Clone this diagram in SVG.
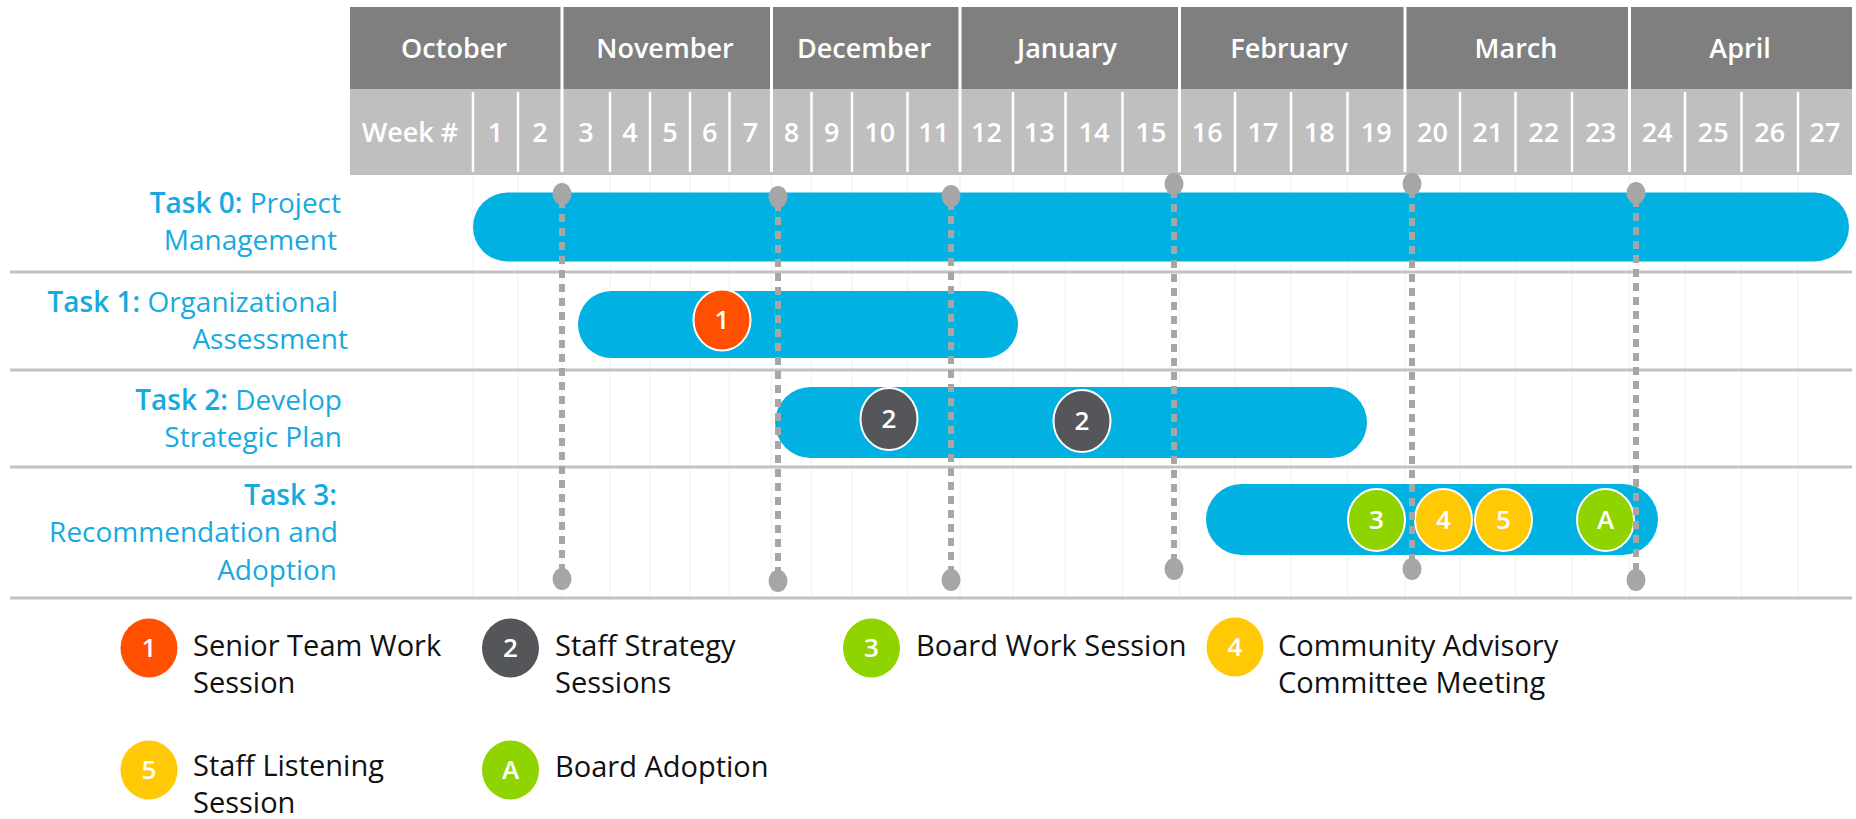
<svg xmlns="http://www.w3.org/2000/svg" width="1856" height="819" viewBox="0 0 1856 819">
  <style>
    .month { fill: #7f7f7f; }
    .weekrow { fill: #bfbfbf; }
    .hdr { font-family: "Open Sans", "Liberation Sans", sans-serif; font-weight: 600; fill: #ffffff; text-anchor: middle; }
    .mtxt { font-size: 27px; }
    .wtxt { font-size: 27px; }
    .wdiv { stroke: #ffffff; stroke-width: 2.5; }
    .mdiv { stroke: #ffffff; stroke-width: 3; }
    .grid { stroke: #f4f4f4; stroke-width: 1.5; }
    .rowline { stroke: #c2c2c2; stroke-width: 3; }
    .bar { fill: #00b1e1; }
    .task { font-family: "Open Sans", "Liberation Sans", sans-serif; font-size: 28px; fill: #17a9e0; text-anchor: end; }
    .task .b { font-weight: 600; }
    .ms { stroke: #ffffff; stroke-width: 2; }
    .num { font-family: "Open Sans", "Liberation Sans", sans-serif; font-weight: 600; font-size: 26px; fill: #ffffff; text-anchor: middle; }
    .orange { fill: #fe5000; }
    .dark { fill: #55565a; }
    .green { fill: #8fd400; }
    .yellow { fill: #ffc905; }
    .dash { stroke: #a6a6a6; stroke-width: 6; stroke-dasharray: 8 6; fill: none; }
    .dot { fill: #a6a6a6; }
    .leg { font-family: "Open Sans", "Liberation Sans", sans-serif; font-size: 29px; fill: #111111; }
  </style>

  <rect width="1856" height="819" fill="#ffffff"/>

  <!-- Timeline header: months and week numbers -->
  <g id="header">
    <rect class="month" x="350" y="7" width="1502" height="82"/>
    <rect class="weekrow" x="350" y="89" width="1502" height="86"/>
    <g class="wdiv">
      <line x1="473" y1="92" x2="473" y2="172"/>
      <line x1="518" y1="92" x2="518" y2="172"/>
      <line x1="610" y1="92" x2="610" y2="172"/>
      <line x1="650" y1="92" x2="650" y2="172"/>
      <line x1="690" y1="92" x2="690" y2="172"/>
      <line x1="729.5" y1="92" x2="729.5" y2="172"/>
      <line x1="811.5" y1="92" x2="811.5" y2="172"/>
      <line x1="852" y1="92" x2="852" y2="172"/>
      <line x1="907.5" y1="92" x2="907.5" y2="172"/>
      <line x1="1013" y1="92" x2="1013" y2="172"/>
      <line x1="1065.5" y1="92" x2="1065.5" y2="172"/>
      <line x1="1122.5" y1="92" x2="1122.5" y2="172"/>
      <line x1="1235" y1="92" x2="1235" y2="172"/>
      <line x1="1291" y1="92" x2="1291" y2="172"/>
      <line x1="1347.5" y1="92" x2="1347.5" y2="172"/>
      <line x1="1460" y1="92" x2="1460" y2="172"/>
      <line x1="1515.5" y1="92" x2="1515.5" y2="172"/>
      <line x1="1572" y1="92" x2="1572" y2="172"/>
      <line x1="1685" y1="92" x2="1685" y2="172"/>
      <line x1="1741.5" y1="92" x2="1741.5" y2="172"/>
      <line x1="1798" y1="92" x2="1798" y2="172"/>
    </g>
    <g class="mdiv">
      <line x1="562" y1="7" x2="562" y2="172"/>
      <line x1="771.5" y1="7" x2="771.5" y2="172"/>
      <line x1="960" y1="7" x2="960" y2="172"/>
      <line x1="1179.5" y1="7" x2="1179.5" y2="172"/>
      <line x1="1405" y1="7" x2="1405" y2="172"/>
      <line x1="1629.5" y1="7" x2="1629.5" y2="172"/>
    </g>
    <g class="hdr mtxt">
      <text x="454" y="58">October</text>
      <text x="665" y="58">November</text>
      <text x="864" y="58">December</text>
      <text x="1067" y="58">January</text>
      <text x="1289" y="58">February</text>
      <text x="1516" y="58">March</text>
      <text x="1740" y="58">April</text>
    </g>
    <g class="hdr wtxt">
      <text x="410" y="142">Week #</text>
      <text x="495.5" y="142">1</text>
      <text x="540" y="142">2</text>
      <text x="586" y="142">3</text>
      <text x="630" y="142">4</text>
      <text x="670" y="142">5</text>
      <text x="709.75" y="142">6</text>
      <text x="750.5" y="142">7</text>
      <text x="791.5" y="142">8</text>
      <text x="831.75" y="142">9</text>
      <text x="879.75" y="142">10</text>
      <text x="933.75" y="142">11</text>
      <text x="986.5" y="142">12</text>
      <text x="1039.25" y="142">13</text>
      <text x="1094" y="142">14</text>
      <text x="1151" y="142">15</text>
      <text x="1207.25" y="142">16</text>
      <text x="1263" y="142">17</text>
      <text x="1319.25" y="142">18</text>
      <text x="1376.25" y="142">19</text>
      <text x="1432.5" y="142">20</text>
      <text x="1487.75" y="142">21</text>
      <text x="1543.75" y="142">22</text>
      <text x="1600.75" y="142">23</text>
      <text x="1657.25" y="142">24</text>
      <text x="1713.25" y="142">25</text>
      <text x="1769.75" y="142">26</text>
      <text x="1825" y="142">27</text>
    </g>
  </g>

  <!-- Faint week grid and row separators -->
  <g id="grid">
    <g class="grid">
      <line x1="473" y1="176" x2="473" y2="597"/>
      <line x1="518" y1="176" x2="518" y2="597"/>
      <line x1="562" y1="176" x2="562" y2="597"/>
      <line x1="610" y1="176" x2="610" y2="597"/>
      <line x1="650" y1="176" x2="650" y2="597"/>
      <line x1="690" y1="176" x2="690" y2="597"/>
      <line x1="729.5" y1="176" x2="729.5" y2="597"/>
      <line x1="771.5" y1="176" x2="771.5" y2="597"/>
      <line x1="811.5" y1="176" x2="811.5" y2="597"/>
      <line x1="852" y1="176" x2="852" y2="597"/>
      <line x1="907.5" y1="176" x2="907.5" y2="597"/>
      <line x1="960" y1="176" x2="960" y2="597"/>
      <line x1="1013" y1="176" x2="1013" y2="597"/>
      <line x1="1065.5" y1="176" x2="1065.5" y2="597"/>
      <line x1="1122.5" y1="176" x2="1122.5" y2="597"/>
      <line x1="1179.5" y1="176" x2="1179.5" y2="597"/>
      <line x1="1235" y1="176" x2="1235" y2="597"/>
      <line x1="1291" y1="176" x2="1291" y2="597"/>
      <line x1="1347.5" y1="176" x2="1347.5" y2="597"/>
      <line x1="1405" y1="176" x2="1405" y2="597"/>
      <line x1="1460" y1="176" x2="1460" y2="597"/>
      <line x1="1515.5" y1="176" x2="1515.5" y2="597"/>
      <line x1="1572" y1="176" x2="1572" y2="597"/>
      <line x1="1629.5" y1="176" x2="1629.5" y2="597"/>
      <line x1="1685" y1="176" x2="1685" y2="597"/>
      <line x1="1741.5" y1="176" x2="1741.5" y2="597"/>
      <line x1="1798" y1="176" x2="1798" y2="597"/>
    </g>
    <g class="rowline">
      <line x1="10" y1="272" x2="1852" y2="272"/>
      <line x1="10" y1="370" x2="1852" y2="370"/>
      <line x1="10" y1="467" x2="1852" y2="467"/>
      <line x1="10" y1="598" x2="1852" y2="598"/>
    </g>
  </g>

  <!-- Task rows -->
  <g id="task0">
    <text class="task" y="213"><tspan x="341" class="b">Task 0:</tspan> Project</text>
    <text class="task" x="337" y="250">Management</text>
    <rect class="bar" x="473" y="192.5" width="1376" height="69" rx="34.5"/>
  </g>
  <g id="task1">
    <text class="task" y="312"><tspan x="338" class="b">Task 1:</tspan> Organizational</text>
    <text class="task" x="348" y="349">Assessment</text>
    <rect class="bar" x="578" y="291" width="440" height="67" rx="33.5"/>
  </g>
  <g id="task2">
    <text class="task" y="410"><tspan x="342" class="b">Task 2:</tspan> Develop</text>
    <text class="task" x="342" y="447">Strategic Plan</text>
    <rect class="bar" x="775" y="387" width="592" height="71" rx="35.5"/>
  </g>
  <g id="task3">
    <text class="task" x="337" y="505" font-weight="600">Task 3:</text>
    <text class="task" x="338" y="542">Recommendation and</text>
    <text class="task" x="337" y="580">Adoption</text>
    <rect class="bar" x="1206" y="484" width="452" height="71" rx="35.5"/>
  </g>

  <!-- Milestones on the bars -->
  <g id="ms-1"><ellipse class="ms orange" cx="722" cy="320" rx="28.5" ry="30.5"/><text class="num" x="722" y="329">1</text></g>
  <g id="ms-2a"><ellipse class="ms dark" cx="889" cy="419" rx="28.5" ry="31"/><text class="num" x="889" y="428">2</text></g>
  <g id="ms-2b"><ellipse class="ms dark" cx="1082" cy="421" rx="28.5" ry="31"/><text class="num" x="1082" y="430">2</text></g>
  <g id="ms-3"><ellipse class="ms green" cx="1376.5" cy="520" rx="28.5" ry="31"/><text class="num" x="1376.5" y="529">3</text></g>
  <g id="ms-4"><ellipse class="ms yellow" cx="1443.5" cy="520" rx="28.5" ry="31"/><text class="num" x="1443.5" y="529">4</text></g>
  <g id="ms-5"><ellipse class="ms yellow" cx="1503.5" cy="520" rx="28.5" ry="31"/><text class="num" x="1503.5" y="529">5</text></g>
  <g id="ms-A"><ellipse class="ms green" cx="1605.5" cy="520" rx="28.5" ry="31"/><text class="num" x="1605.5" y="529">A</text></g>

  <!-- Dotted date markers -->
  <g id="connectors">
    <line class="dash" x1="562" y1="200" x2="562" y2="574"/>
    <line class="dash" x1="778" y1="203" x2="778" y2="576"/>
    <line class="dash" x1="951" y1="202" x2="951" y2="575"/>
    <line class="dash" x1="1174" y1="190" x2="1174" y2="564"/>
    <line class="dash" x1="1412" y1="190" x2="1412" y2="564"/>
    <line class="dash" x1="1636" y1="199" x2="1636" y2="575"/>
    <ellipse class="dot" cx="562" cy="194" rx="9.5" ry="11"/>
    <ellipse class="dot" cx="562" cy="579" rx="9.5" ry="11"/>
    <ellipse class="dot" cx="778" cy="197" rx="9.5" ry="11"/>
    <ellipse class="dot" cx="778" cy="581" rx="9.5" ry="11"/>
    <ellipse class="dot" cx="951" cy="196" rx="9.5" ry="11"/>
    <ellipse class="dot" cx="951" cy="580" rx="9.5" ry="11"/>
    <ellipse class="dot" cx="1174" cy="184" rx="9.5" ry="11"/>
    <ellipse class="dot" cx="1174" cy="569" rx="9.5" ry="11"/>
    <ellipse class="dot" cx="1412" cy="184" rx="9.5" ry="11"/>
    <ellipse class="dot" cx="1412" cy="569" rx="9.5" ry="11"/>
    <ellipse class="dot" cx="1636" cy="193" rx="9.5" ry="11"/>
    <ellipse class="dot" cx="1636" cy="580" rx="9.5" ry="11"/>
  </g>

  <!-- Legend -->
  <g id="legend">
    <g id="leg-1">
      <ellipse class="orange" cx="149" cy="648" rx="28.5" ry="29.5"/><text class="num" x="149" y="657">1</text>
      <text class="leg" x="193" y="656">Senior Team Work</text>
      <text class="leg" x="193" y="693">Session</text>
    </g>
    <g id="leg-2">
      <ellipse class="dark" cx="510.5" cy="648" rx="28.5" ry="29.5"/><text class="num" x="510.5" y="657">2</text>
      <text class="leg" x="555" y="656">Staff Strategy</text>
      <text class="leg" x="555" y="693">Sessions</text>
    </g>
    <g id="leg-3">
      <ellipse class="green" cx="871.5" cy="648" rx="28.5" ry="29.5"/><text class="num" x="871.5" y="657">3</text>
      <text class="leg" x="916" y="656">Board Work Session</text>
    </g>
    <g id="leg-4">
      <ellipse class="yellow" cx="1235" cy="647" rx="28.5" ry="29.5"/><text class="num" x="1235" y="656">4</text>
      <text class="leg" x="1278" y="656">Community Advisory</text>
      <text class="leg" x="1278" y="693">Committee Meeting</text>
    </g>
    <g id="leg-5">
      <ellipse class="yellow" cx="149" cy="770" rx="28.5" ry="29.5"/><text class="num" x="149" y="779">5</text>
      <text class="leg" x="193" y="776">Staff Listening</text>
      <text class="leg" x="193" y="813">Session</text>
    </g>
    <g id="leg-A">
      <ellipse class="green" cx="510.5" cy="770" rx="28.5" ry="29.5"/><text class="num" x="510.5" y="779">A</text>
      <text class="leg" x="555" y="777">Board Adoption</text>
    </g>
  </g>
</svg>
